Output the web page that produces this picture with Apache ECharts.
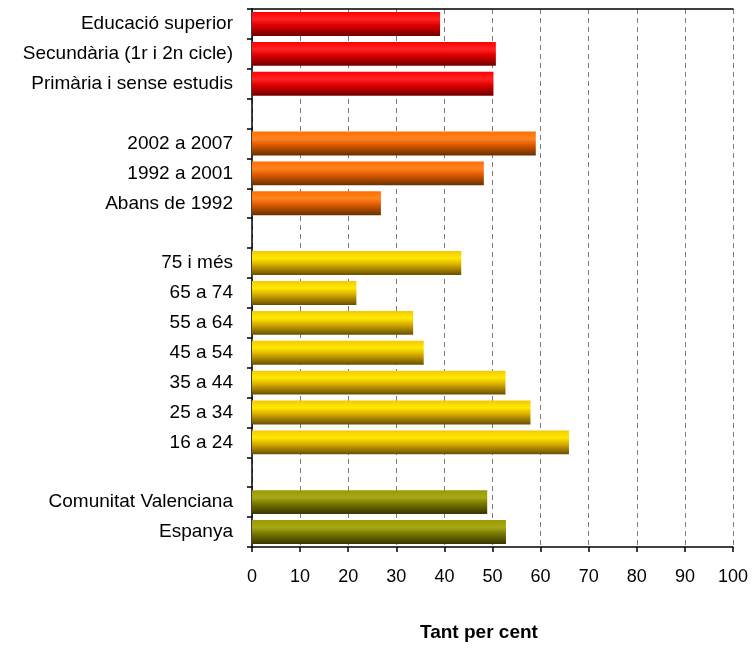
<!DOCTYPE html>
<html>
<head>
<meta charset="utf-8">
<script src="https://cdn.jsdelivr.net/npm/echarts@6/dist/echarts.min.js"></script>
<style>
  html, body { margin: 0; padding: 0; background: #fff; }
  #myChart { width: 753px; height: 648px; }
</style>
</head>
<body>
<div id="myChart"></div>
<script>
// categories top to bottom, blank slots separate the groups
var categories = [
  'Educació superior', 'Secundària (1r i 2n cicle)', 'Primària i sense estudis', ' ',
  '2002 a 2007', '1992 a 2001', 'Abans de 1992', '  ',
  '75 i més', '65 a 74', '55 a 64', '45 a 54', '35 a 44', '25 a 34', '16 a 24', '   ',
  'Comunitat Valenciana', 'Espanya'
];
var values = [
  39.1, 50.7, 50.2, '-',
  59.0, 48.2, 26.8, '-',
  43.5, 21.7, 33.5, 35.7, 52.7, 57.9, 65.9, '-',
  48.9, 52.8
];
// colour group of each category (0 red, 1 orange, 2 yellow, 3 olive)
var groups = [0, 0, 0, 0, 1, 1, 1, 1, 2, 2, 2, 2, 2, 2, 2, 2, 3, 3];
var xTicks = [0, 10, 20, 30, 40, 50, 60, 70, 80, 90, 100];

var palettes = [
  ['#ff0000', '#ff2424', '#e00000', '#700000'],
  ['#ff6e00', '#ff8420', '#e05a00', '#653000'],
  ['#f5c800', '#ffea00', '#dcb000', '#665000'],
  ['#9a9a00', '#a8a818', '#7a7a00', '#353500']
];

function grad(p) {
  return new echarts.graphic.LinearGradient(0, 0, 0, 1, [
    { offset: 0, color: p[0] },
    { offset: 0.3, color: p[1] },
    { offset: 0.55, color: p[2] },
    { offset: 1, color: p[3] }
  ]);
}

var font = "'Liberation Sans', Arial, sans-serif";

var chart = echarts.init(document.getElementById('myChart'));
chart.setOption({
  animation: false,
  grid: { left: 252, right: 20, top: 9, bottom: 101 },
  xAxis: [{
    type: 'value',
    min: xTicks[0],
    max: xTicks[xTicks.length - 1],
    interval: 10,
    axisLine: { show: true, lineStyle: { color: '#000', width: 1.5 } },
    axisTick: { show: true, length: 5, lineStyle: { color: '#000', width: 1.5 } },
    axisLabel: { margin: 21, color: '#000', fontSize: 18, fontFamily: font },
    splitLine: { show: true, lineStyle: { color: '#7a7a7a', type: [5, 4], width: 1 } }
  }, {
    type: 'value',
    position: 'top',
    min: 0,
    max: 100,
    axisLine: { show: true, lineStyle: { color: '#000', width: 1.5 } },
    axisTick: { show: false },
    axisLabel: { show: false },
    splitLine: { show: false }
  }],
  yAxis: {
    type: 'category',
    inverse: true,
    data: categories,
    axisLine: { show: true, lineStyle: { color: '#000', width: 1.5 } },
    axisTick: { show: true, length: 5, lineStyle: { color: '#000', width: 1.5 } },
    axisLabel: { margin: 19, color: '#000', fontSize: 19, fontFamily: font, interval: 0 }
  },
  graphic: [{
    type: 'text',
    left: 420,
    top: 623,
    style: { text: 'Tant per cent', fill: '#000', font: 'bold 19px ' + font }
  }],
  series: [{
    type: 'bar',
    barCategoryGap: '20%',
    data: values.map(function (v, i) {
      return { value: v, itemStyle: { color: grad(palettes[groups[i]]) } };
    })
  }]
});
</script>
</body>
</html>
